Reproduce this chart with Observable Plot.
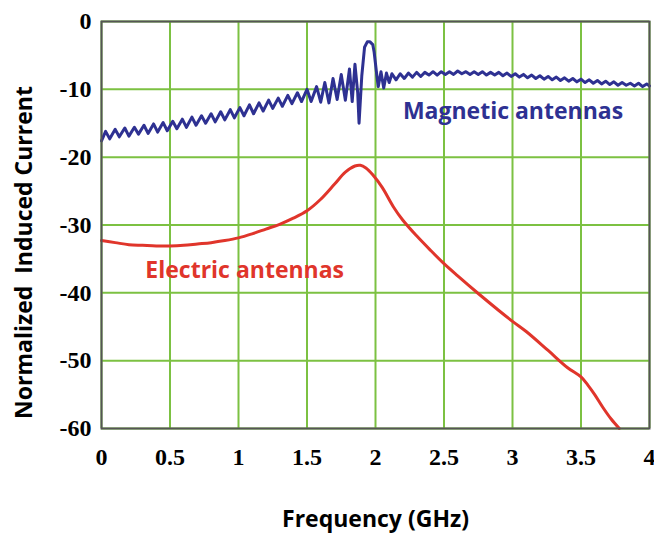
<!DOCTYPE html>
<html>
<head>
<meta charset="utf-8">
<script src="https://cdn.jsdelivr.net/npm/d3@7"></script>
<script src="https://cdn.jsdelivr.net/npm/@observablehq/plot@0.6"></script>
<style>
  html, body { margin: 0; padding: 0; background: #fff; }
</style>
</head>
<body>
<div id="chart"></div>
<script>
// Tick values
const xTicks = [0, 0.5, 1, 1.5, 2, 2.5, 3, 3.5, 4];
const yTicks = [0, -10, -20, -30, -40, -50, -60];

// Magnetic antennas (GHz, normalized induced current)
const magFreq = [
  0.00, 0.03, 0.06, 0.10, 0.13, 0.17, 0.20, 0.24, 0.27, 0.31, 0.34, 0.38, 0.41, 0.45, 0.48,
  0.52, 0.55, 0.59, 0.62, 0.66, 0.69, 0.73, 0.76, 0.80, 0.83, 0.87, 0.90, 0.94, 0.97,
  1.01, 1.04, 1.08, 1.11, 1.15, 1.18, 1.22, 1.25, 1.29, 1.32, 1.36, 1.39, 1.43, 1.46,
  1.50, 1.53, 1.57, 1.60, 1.63, 1.66, 1.69, 1.72, 1.75, 1.78, 1.81, 1.83, 1.85, 1.87,
  1.88, 1.90, 1.92, 1.94, 1.96, 1.98, 1.99, 2.01, 2.02, 2.04, 2.06, 2.08, 2.10,
  2.12, 2.15, 2.18, 2.21, 2.24, 2.27, 2.30, 2.33, 2.36, 2.39, 2.42, 2.45, 2.48,
  2.51, 2.54, 2.57, 2.60, 2.63, 2.66, 2.69, 2.72, 2.75, 2.78, 2.81, 2.84, 2.87,
  2.90, 2.93, 2.96, 2.99, 3.02, 3.05, 3.08, 3.11, 3.14, 3.17, 3.20, 3.23, 3.26,
  3.29, 3.32, 3.35, 3.38, 3.41, 3.44, 3.47, 3.50, 3.53, 3.56, 3.59, 3.62, 3.65,
  3.68, 3.71, 3.74, 3.77, 3.80, 3.83, 3.86, 3.89, 3.92, 3.95, 3.98, 4.00
];
const magValue = [
  -17.6, -16.2, -17.3, -15.9, -17.0, -15.7, -16.9, -15.6, -16.6, -15.3, -16.5, -15.1, -16.3, -14.9, -16.1,
  -14.7, -15.8, -14.4, -15.6, -14.1, -15.3, -13.9, -15.0, -13.6, -14.8, -13.3, -14.5, -13.0, -14.2,
  -12.7, -13.9, -12.3, -13.6, -12.0, -13.2, -11.6, -12.8, -11.3, -12.5, -10.9, -12.1, -10.5, -11.8,
  -10.0, -11.8, -9.6, -11.9, -9.0, -12.0, -8.4, -11.5, -7.8, -11.6, -7.0, -11.8, -6.3, -10.5,
  -15.0, -8.0, -3.8, -3.0, -3.0, -3.4, -4.5, -8.0, -9.6, -7.4, -9.8, -7.6, -9.0,
  -7.7, -8.6, -7.7, -8.4, -7.6, -8.2, -7.5, -8.1, -7.5, -7.9, -7.4, -7.9, -7.4,
  -7.8, -7.4, -7.8, -7.3, -7.7, -7.4, -7.8, -7.4, -7.8, -7.4, -7.9, -7.5, -7.9,
  -7.5, -8.0, -7.6, -8.1, -7.7, -8.2, -7.8, -8.3, -7.9, -8.4, -8.0, -8.5, -8.1,
  -8.6, -8.2, -8.7, -8.3, -8.8, -8.4, -8.9, -8.5, -9.0, -8.6, -9.1, -8.7, -9.2,
  -8.8, -9.3, -8.9, -9.4, -9.0, -9.4, -9.1, -9.5, -9.1, -9.6, -9.2, -9.5
];

// Electric antennas
const elecFreq = [
  0.00, 0.10, 0.20, 0.30, 0.40, 0.50, 0.60, 0.70, 0.80, 0.90, 1.00, 1.10, 1.20, 1.30, 1.40,
  1.50, 1.60, 1.70, 1.78, 1.85, 1.89, 1.93, 1.98, 2.05, 2.13, 2.20, 2.30, 2.40, 2.50, 2.60,
  2.75, 2.90, 3.00, 3.10, 3.26, 3.40, 3.50, 3.55, 3.60, 3.66, 3.72, 3.78
];
const elecValue = [
  -32.3, -32.6, -32.9, -33.0, -33.1, -33.1, -33.0, -32.8, -32.6, -32.3, -31.9, -31.3, -30.6, -29.9, -29.0,
  -27.9, -26.2, -24.0, -22.2, -21.3, -21.2, -21.6, -22.6, -24.5, -27.3, -29.3, -31.6, -33.7, -35.7, -37.5,
  -40.1, -42.6, -44.2, -45.7, -48.5, -51.0, -52.4, -53.6, -55.0, -56.9, -58.6, -60.0
];

// Series labels
const labelText = ["Magnetic antennas", "Electric antennas"];
const labelFreq = [2.2, 0.32];
const labelValue = [-14.3, -37.8];
const labelColor = ["#2e3192", "#e0352b"];

const mag = magFreq.map((f, i) => ({f, v: magValue[i]}));
const elec = elecFreq.map((f, i) => ({f, v: elecValue[i]}));
const labels = labelText.map((t, i) => ({t, f: labelFreq[i], v: labelValue[i], c: labelColor[i]}));

const sans = "'Open Sans', 'DejaVu Sans', sans-serif";

const chart = Plot.plot({
  width: 654,
  height: 534,
  marginTop: 21,
  marginLeft: 101,
  marginRight: 5,
  marginBottom: 106,
  x: {domain: [0, 4]},
  y: {domain: [-60, 0]},
  style: {
    fontFamily: "'Liberation Serif', 'Times New Roman', serif",
    fontWeight: "bold",
    fontSize: "24px",
    color: "#000",
    background: "#fff",
    overflow: "visible"
  },
  marks: [
    Plot.gridX(xTicks, {stroke: "#7cc142", strokeOpacity: 1, strokeWidth: 2}),
    Plot.gridY(yTicks, {stroke: "#7cc142", strokeOpacity: 1, strokeWidth: 2}),
    Plot.axisX(xTicks, {tickSize: 0, tickPadding: 19, tickFormat: d => String(d), label: null, fontSize: 24, fontWeight: "bold"}),
    Plot.axisY(yTicks, {tickSize: 0, tickPadding: 10, tickFormat: d => String(d), label: null, fontSize: 24, fontWeight: "bold"}),
    Plot.line(mag, {x: "f", y: "v", stroke: "#2e3192", strokeWidth: 3, strokeLinejoin: "round"}),
    Plot.line(elec, {x: "f", y: "v", stroke: "#e0352b", strokeWidth: 3, strokeLinejoin: "round", curve: "catmull-rom"}),
    Plot.frame({stroke: "#555", strokeWidth: 2}),
    Plot.text(labels, {x: "f", y: "v", text: "t", fill: "c", textAnchor: "start", lineAnchor: "bottom",
      fontFamily: sans, fontWeight: "bold", fontSize: 23}),
    Plot.text(["Frequency (GHz)"], {text: d => d, frameAnchor: "bottom", dy: 98, lineAnchor: "bottom", textAnchor: "middle",
      fontFamily: sans, fontWeight: "bold", fontSize: 23, fill: "#000"}),
    Plot.text(["Normalized\u00a0 Induced Current"], {text: d => d, frameAnchor: "left", rotate: -90, dx: -77, dy: 27.5,
      textAnchor: "middle", lineAnchor: "middle",
      fontFamily: sans, fontWeight: "bold", fontSize: 23, fill: "#000"})
  ]
});

document.getElementById("chart").appendChild(chart);
</script>
</body>
</html>
